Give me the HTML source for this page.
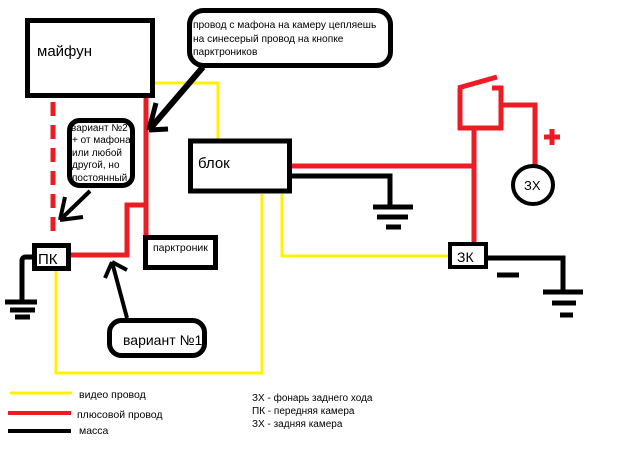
<!DOCTYPE html>
<html><head><meta charset="utf-8"><style>
html,body{margin:0;padding:0;background:#fff;}
svg{display:block;}
text{font-family:"Liberation Sans","DejaVu Sans",sans-serif;fill:#000;}
</style></head><body>
<svg width="639" height="467" viewBox="0 0 639 467" xmlns="http://www.w3.org/2000/svg">
<rect width="639" height="467" fill="#fff"/>
<!-- yellow wires -->
<g stroke="#FFF200" stroke-width="3" fill="none">
<polyline points="155,83 218,83 218,139"/>
<polyline points="262,194 262,373 56,373 56,271"/>
<polyline points="282,194 282,256 448,256"/>
<line x1="10" y1="393" x2="72" y2="393"/>
</g>
<!-- red wires -->
<g stroke="#ED1C24" stroke-width="5" fill="none">
<line x1="146" y1="98" x2="146" y2="236"/>
<polyline points="71,255 127,255 127,205 146,205"/>
<line x1="292" y1="166" x2="476" y2="166"/>
<line x1="474" y1="128" x2="474" y2="242"/>
<line x1="458" y1="88" x2="497" y2="77"/>
<line x1="460" y1="88" x2="460" y2="130"/>
<line x1="458" y1="128" x2="503" y2="128"/>
<line x1="501" y1="86" x2="501" y2="130"/>
<line x1="492" y1="88" x2="503" y2="88"/>
<polyline points="501,105 535,105 535,167"/>
<line x1="544" y1="137" x2="560" y2="137"/>
<line x1="552" y1="129" x2="552" y2="145"/>
<line x1="53" y1="102" x2="53" y2="232" stroke-dasharray="14,9"/>
<line x1="8" y1="413" x2="71" y2="413" stroke-width="4"/>
</g>
<!-- black wires -->
<g stroke="#000" stroke-width="5" fill="none">
<polyline points="292,176 390,176 390,207"/>
<line x1="373" y1="207" x2="413" y2="207"/>
<line x1="377" y1="217" x2="408" y2="217"/>
<line x1="386" y1="227" x2="401" y2="227"/>
<polyline points="488,258 563,258 563,292"/>
<line x1="543" y1="292" x2="583" y2="292"/>
<line x1="552" y1="303" x2="576" y2="303"/>
<line x1="560" y1="315" x2="573" y2="315"/>
<line x1="497" y1="275" x2="519" y2="275"/>
<path d="M32,257 L26,257 Q22,257 22,261 L22,302"/>
<line x1="5" y1="302" x2="37" y2="302"/>
<line x1="10" y1="310" x2="35" y2="310"/>
<line x1="15" y1="317" x2="30" y2="317"/>
<line x1="8" y1="431" x2="71" y2="431" stroke-width="4"/>
</g>
<!-- boxes -->
<g stroke="#000" stroke-width="5" fill="#fff">
<rect x="27.5" y="20.5" width="125" height="75"/>
<rect x="190.5" y="141" width="99" height="50"/>
<rect x="34.5" y="245.5" width="34" height="23"/>
<rect x="145.5" y="237.5" width="70" height="30"/>
<rect x="450" y="244" width="36" height="23" stroke-width="4"/>
<rect x="189.5" y="10.5" width="201" height="55" rx="14"/>
<rect x="69.5" y="120.5" width="63" height="65" rx="10"/>
<rect x="109.5" y="320.5" width="95" height="35" rx="12"/>
</g>
<ellipse cx="533" cy="185" rx="20" ry="19" stroke="#000" stroke-width="4" fill="#fff"/>
<!-- arrows -->
<g stroke="#000" fill="none">
<line x1="203" y1="67" x2="149" y2="130" stroke-width="6"/>
<line x1="149" y1="130" x2="156" y2="103" stroke-width="5"/>
<line x1="149" y1="130" x2="168" y2="129" stroke-width="5"/>
<line x1="90" y1="191" x2="60" y2="220" stroke-width="4"/>
<line x1="60" y1="220" x2="65" y2="197" stroke-width="4"/>
<line x1="60" y1="220" x2="83" y2="217" stroke-width="4"/>
<line x1="127" y1="318" x2="112" y2="262" stroke-width="4"/>
<line x1="112" y1="262" x2="105" y2="278" stroke-width="4"/>
<line x1="112" y1="262" x2="127" y2="270" stroke-width="4"/>
</g>
<!-- text -->
<text x="37" y="56" font-size="15">майфун</text>
<text x="198" y="168" font-size="15">блок</text>
<text x="38" y="264" font-size="15">ПК</text>
<text x="457" y="262" font-size="14">ЗК</text>
<text x="524" y="190" font-size="13">ЗХ</text>
<text x="153" y="251" font-size="10.5">парктроник</text>
<text x="123" y="345" font-size="14">вариант  №1</text>
<g font-size="10.2">
<text x="193" y="28">провод с мафона на камеру цепляешь</text>
<text x="193" y="42">на синесерый провод на кнопке</text>
<text x="193" y="55">парктроников</text>
</g>
<g font-size="10">
<text x="71" y="131">вариант №2</text>
<text x="72" y="143">+ от мафона</text>
<text x="72" y="156">или любой</text>
<text x="72" y="168">другой, но</text>
<text x="72" y="181">постоянный</text>
</g>
<g font-size="10.5">
<text x="79" y="398">видео провод</text>
<text x="77" y="418">плюсовой провод</text>
<text x="79" y="434">масса</text>
</g>
<g font-size="10">
<text x="252" y="401">ЗХ - фонарь заднего хода</text>
<text x="252" y="414">ПК - передняя камера</text>
<text x="252" y="427">ЗХ - задняя камера</text>
</g>
</svg>
</body></html>
